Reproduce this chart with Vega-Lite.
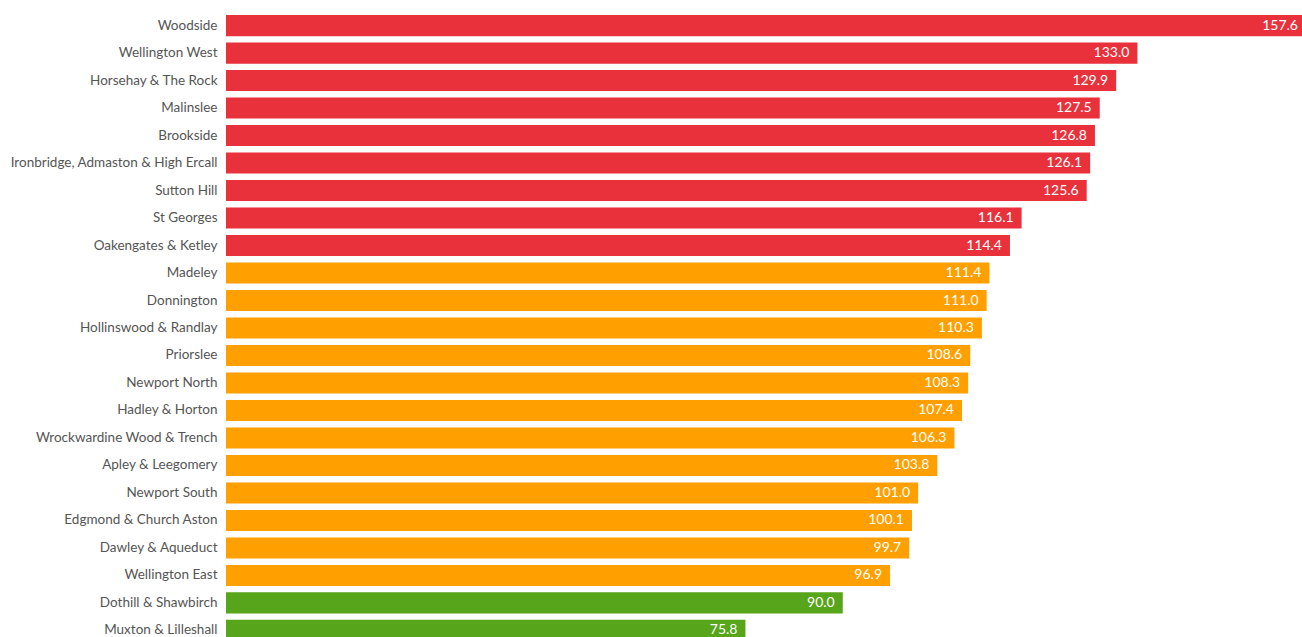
{
  "$schema": "https://vega.github.io/schema/vega-lite/v6.json",
  "autosize": {"type": "none"},
  "padding": {"left": 226, "top": 0, "right": 0, "bottom": 0},
  "width": 1080,
  "height": 656,
  "background": "white",
  "config": {"view": {"stroke": null}, "font": "Lato"},
  "data": {
    "values": [
      {"ward": "Woodside", "value": 157.6, "band": "high"},
      {"ward": "Wellington West", "value": 133.0, "band": "high"},
      {"ward": "Horsehay & The Rock", "value": 129.9, "band": "high"},
      {"ward": "Malinslee", "value": 127.5, "band": "high"},
      {"ward": "Brookside", "value": 126.8, "band": "high"},
      {"ward": "Ironbridge, Admaston & High Ercall", "value": 126.1, "band": "high"},
      {"ward": "Sutton Hill", "value": 125.6, "band": "high"},
      {"ward": "St Georges", "value": 116.1, "band": "high"},
      {"ward": "Oakengates & Ketley", "value": 114.4, "band": "high"},
      {"ward": "Madeley", "value": 111.4, "band": "mid"},
      {"ward": "Donnington", "value": 111.0, "band": "mid"},
      {"ward": "Hollinswood & Randlay", "value": 110.3, "band": "mid"},
      {"ward": "Priorslee", "value": 108.6, "band": "mid"},
      {"ward": "Newport North", "value": 108.3, "band": "mid"},
      {"ward": "Hadley & Horton", "value": 107.4, "band": "mid"},
      {"ward": "Wrockwardine Wood & Trench", "value": 106.3, "band": "mid"},
      {"ward": "Apley & Leegomery", "value": 103.8, "band": "mid"},
      {"ward": "Newport South", "value": 101.0, "band": "mid"},
      {"ward": "Edgmond & Church Aston", "value": 100.1, "band": "mid"},
      {"ward": "Dawley & Aqueduct", "value": 99.7, "band": "mid"},
      {"ward": "Wellington East", "value": 96.9, "band": "mid"},
      {"ward": "Dothill & Shawbirch", "value": 90.0, "band": "low"},
      {"ward": "Muxton & Lilleshall", "value": 75.8, "band": "low"}
    ]
  },
  "encoding": {
    "y": {
      "field": "ward",
      "type": "nominal",
      "sort": null,
      "scale": {"paddingInner": 0.235, "paddingOuter": 0.55},
      "axis": {
        "title": null,
        "domain": false,
        "ticks": false,
        "labelPadding": 9,
        "labelFontSize": 13.5,
        "labelColor": "#555555",
        "labelFont": "Lato",
        "labelLimit": 240
      }
    },
    "x": {
      "field": "value",
      "type": "quantitative",
      "scale": {"domain": [0, 157.6], "nice": false, "zero": true},
      "axis": null
    }
  },
  "layer": [
    {
      "mark": {"type": "bar"},
      "encoding": {
        "color": {
          "field": "band",
          "type": "nominal",
          "scale": {"domain": ["high", "mid", "low"], "range": ["#E8313A", "#FF9F00", "#57A51A"]},
          "legend": null
        }
      }
    },
    {
      "mark": {"type": "text", "align": "right", "baseline": "middle", "dx": -8, "color": "white", "fontSize": 14, "font": "Lato"},
      "encoding": {
        "text": {"field": "value", "type": "quantitative", "format": ".1f"}
      }
    }
  ]
}
